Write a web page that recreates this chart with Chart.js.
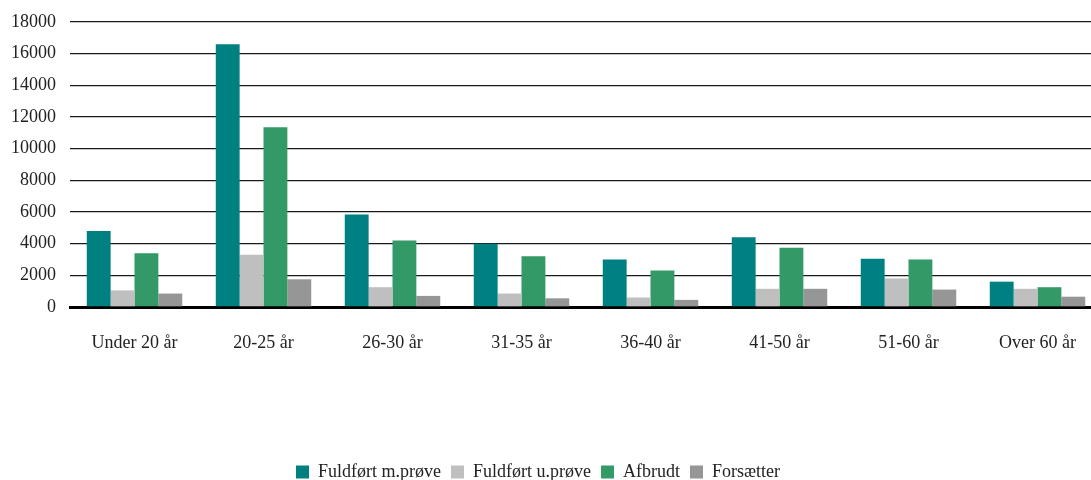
<!DOCTYPE html>
<html>
<head>
<meta charset="utf-8">
<script src="https://cdn.jsdelivr.net/npm/chart.js@4.4.0/dist/chart.umd.min.js"></script>
<style>
  html, body { margin: 0; padding: 0; background: #fff; overflow: hidden; }
  #wrap { width: 1102px; height: 491px; }
</style>
</head>
<body>
<div id="wrap"><canvas id="chart"></canvas></div>
<script>
const ageGroups = ['Under 20 år', '20-25 år', '26-30 år', '31-35 år', '36-40 år', '41-50 år', '51-60 år', 'Over 60 år'];

const fuldfortMed = [4800, 16600, 5850, 4000, 3000, 4400, 3050, 1600];
const fuldfortUden = [1050, 3300, 1250, 850, 600, 1150, 1800, 1150];
const afbrudt = [3400, 11350, 4200, 3200, 2300, 3750, 3000, 1250];
const forsaetter = [850, 1750, 700, 550, 450, 1150, 1100, 650];

const font = { family: "'Liberation Serif', 'DejaVu Serif', serif", size: 18 };

// legend sits a little left of centre in the original
const shiftLegend = {
    id: 'shiftLegend',
    beforeDraw(chart) {
        chart.legend.left -= 13;
        chart.legend.right -= 13;
    }
};

new Chart("chart", {
    type: "bar",
    data: {
        labels: ageGroups,
        datasets: [
            { label: 'Fuldført m.prøve', data: fuldfortMed, backgroundColor: '#008080' },
            { label: 'Fuldført u.prøve', data: fuldfortUden, backgroundColor: '#bfbfbf' },
            { label: 'Afbrudt', data: afbrudt, backgroundColor: '#339966' },
            { label: 'Forsætter', data: forsaetter, backgroundColor: '#969696' }
        ]
    },
    options: {
        responsive: true,
        maintainAspectRatio: false,
        animation: false,
        datasets: {
            bar: { categoryPercentage: 0.74, barPercentage: 1.0 }
        },
        layout: { padding: { top: 22, left: 0, right: 0, bottom: 0 } },
        scales: {
            x: {
                grid: { display: false, drawTicks: false },
                border: { display: true, color: '#000', width: 3 },
                ticks: { color: '#222', font: font, padding: 25, maxRotation: 0 },
                afterFit: (s) => { s.height = 146; }
            },
            y: {
                min: 0,
                max: 18000,
                ticks: {
                    stepSize: 2000,
                    color: '#222',
                    font: font,
                    padding: 14,
                    callback: (v) => String(v)
                },
                grid: { color: '#1a1a1a', lineWidth: 1.3, drawTicks: false },
                border: { display: false },
                afterFit: (s) => { s.width = 70; s.paddingTop = 0; }
            }
        },
        plugins: {
            legend: {
                position: 'bottom',
                labels: {
                    color: '#222',
                    font: font,
                    boxWidth: 13,
                    boxHeight: 13,
                    padding: 10
                }
            },
            tooltip: { enabled: false }
        }
    },
    plugins: [shiftLegend]
});
</script>
</body>
</html>
